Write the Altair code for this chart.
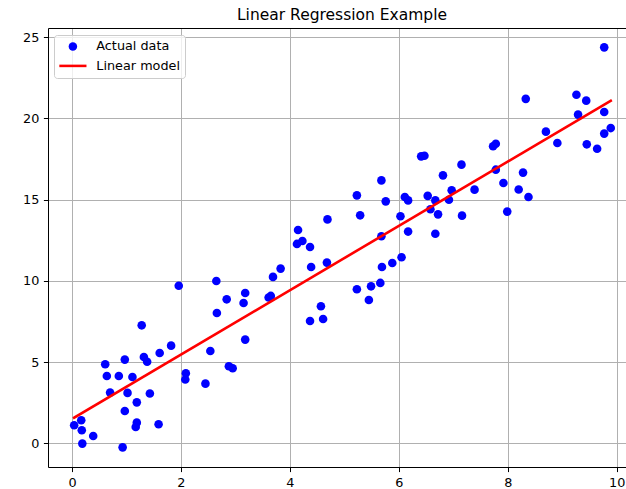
import altair as alt
import pandas as pd

# ---- data ----
x_actual = [0.04, 0.17, 0.18, 0.19, 0.39, 0.61, 0.64, 0.70, 0.86, 0.93,
            0.97, 0.97, 1.02, 1.11, 1.17, 1.19, 1.19, 1.28, 1.32, 1.38,
            1.43, 1.59, 1.61, 1.82, 1.96, 2.08, 2.09, 2.45, 2.54, 2.65,
            2.66, 2.84, 2.88, 2.95, 3.15, 3.18, 3.18, 3.61, 3.65, 3.69,
            3.83, 4.13, 4.15, 4.23, 4.37, 4.37, 4.39, 4.57, 4.61, 4.68,
            4.69, 5.23, 5.23, 5.29, 5.45, 5.49, 5.66, 5.68, 5.68, 5.69,
            5.76, 5.88, 6.03, 6.05, 6.11, 6.17, 6.17, 6.41, 6.47, 6.53,
            6.58, 6.67, 6.67, 6.72, 6.81, 6.92, 6.97, 7.15, 7.16, 7.39,
            7.73, 7.78, 7.78, 7.92, 7.99, 8.20, 8.28, 8.33, 8.38, 8.70,
            8.91, 9.26, 9.29, 9.44, 9.45, 9.64, 9.77, 9.77, 9.77, 9.89]
y_actual = [1.11, 1.42, 0.80, -0.02, 0.45, 4.86, 4.14, 3.12, 4.14, -0.25,
            5.15, 1.99, 3.10, 4.08, 1.00, 2.52, 1.27, 7.26, 5.31, 5.02,
            3.06, 1.17, 5.56, 6.01, 9.70, 3.93, 4.31, 3.67, 5.68, 9.99,
            8.02, 8.86, 4.74, 4.62, 8.63, 9.25, 6.38, 8.97, 9.07, 10.24,
            10.75, 12.27, 13.13, 12.45, 12.08, 7.53, 10.85, 8.43, 7.65, 11.12,
            13.78, 15.26, 9.48, 14.03, 8.82, 9.66, 9.87, 16.18, 12.74, 10.85,
            14.89, 11.10, 13.97, 11.45, 15.16, 14.95, 13.03, 17.66, 17.70, 15.23,
            14.40, 14.95, 12.90, 14.09, 16.49, 14.99, 15.57, 17.15, 14.01, 15.61,
            18.28, 18.44, 16.84, 16.02, 14.26, 15.62, 16.66, 21.20, 15.16, 19.18,
            18.48, 21.45, 20.23, 21.09, 18.40, 18.13, 24.37, 20.39, 19.06, 19.40]
line_x = [0.04, 9.89]
line_y = [1.58, 21.08]
series_names = ["Actual data", "Linear model"]
x_ticks = [0, 2, 4, 6, 8, 10]
y_ticks = [0, 5, 10, 15, 20, 25]
title_text = "Linear Regression Example"

pts = pd.DataFrame({"x": x_actual, "y": y_actual, "series": series_names[0]})
ln = pd.DataFrame({"x": line_x, "y": line_y, "series": series_names[1]})

FONT = "DejaVu Sans"
xscale = alt.Scale(domain=[-0.44, 10.17], nice=False, zero=False)
yscale = alt.Scale(domain=[-1.46, 25.56], nice=False, zero=False)
line_symbol = "M-3.2,-0.3L3.2,-0.3L3.2,0.3L-3.2,0.3Z"

points = alt.Chart(pts).mark_point(filled=True, opacity=1, size=74, strokeWidth=0).encode(
    x=alt.X("x:Q", scale=xscale,
            axis=alt.Axis(values=x_ticks, title=None, format="d", grid=True)),
    y=alt.Y("y:Q", scale=yscale,
            axis=alt.Axis(values=y_ticks, title=None, format="d", grid=True)),
    color=alt.Color("series:N",
                    scale=alt.Scale(domain=series_names, range=["#0000ff", "#ff0000"]),
                    legend=alt.Legend(title=None)),
    shape=alt.Shape("series:N",
                    scale=alt.Scale(domain=series_names, range=["circle", line_symbol]),
                    legend=alt.Legend(title=None)),
)

line = alt.Chart(ln).mark_line(color="#ff0000", strokeWidth=2.6, strokeCap="square").encode(
    x=alt.X("x:Q", scale=xscale, axis=None),
    y=alt.Y("y:Q", scale=yscale),
)

top_spine = alt.Chart(ln).mark_point(opacity=0).encode(
    x=alt.X("x:Q", scale=xscale,
            axis=alt.Axis(orient="top", labels=False, ticks=False, grid=False,
                          title=None, domain=True)),
    y=alt.Y("y:Q", scale=yscale),
)

chart = (
    alt.layer(points, line, top_spine)
    .resolve_axis(x="independent")
    .properties(
        width=578,
        height=439,
        padding={"left": 48, "top": 28, "right": 0, "bottom": 22},
        autosize="none",
        background="white",
        title=alt.TitleParams(title_text, font=FONT, fontSize=15.5, fontWeight="normal",
                              color="black", anchor="middle", frame="group",
                              offset=5, dx=5),
    )
    .configure_view(stroke=None)
    .configure_axis(
        labelFont=FONT, labelFontSize=12.8, labelColor="black",
        tickColor="black", tickSize=4.6, tickWidth=1, labelPadding=4.6,
        domainColor="black", domainWidth=1,
        gridColor="#b0b0b0", gridWidth=1, gridOpacity=1,
    )
    .configure_legend(
        orient="none", legendX=6, legendY=7,
        fillColor="rgba(255,255,255,0.8)", strokeColor="#cccccc", cornerRadius=3,
        padding=5, labelFont=FONT, labelFontSize=12.8, labelColor="black",
        symbolSize=72, symbolOffset=7.5, labelOffset=17, rowPadding=5.5,
        symbolStrokeWidth=0,
    )
)

chart.save("out.html", embed_options={"renderer": "svg", "actions": False})
